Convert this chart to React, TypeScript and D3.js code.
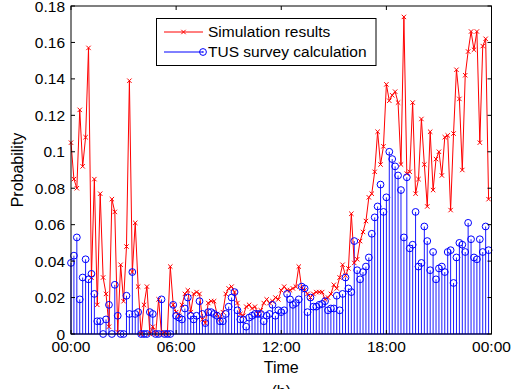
import React from "react";
import * as d3 from "d3";

const simValues: number[] = [
  0.105, 0.085, 0.080, 0.123, 0.092, 0.108, 0.157, 0.031, 0.085, 0.016,
  0.077, 0.031, 0.022, 0.004, 0.074, 0.067, 0.001, 0.038, 0.018, 0.048,
  0.139, 0.034, 0.061, 0.026, 0.000, 0.016, 0.026, 0.000, 0.004, 0.000,
  0.019, 0.000, 0.001, 0.000, 0.037, 0.016, 0.012, 0.010, 0.016, 0.022,
  0.024, 0.012, 0.022, 0.023, 0.022, 0.008, 0.006, 0.017, 0.018, 0.018,
  0.011, 0.008, 0.012, 0.022, 0.025, 0.026, 0.023, 0.017, 0.011, 0.010,
  0.015, 0.016, 0.014, 0.015, 0.011, 0.013, 0.017, 0.019, 0.017, 0.018,
  0.020, 0.019, 0.024, 0.026, 0.024, 0.024, 0.025, 0.026, 0.037, 0.025,
  0.024, 0.022, 0.020, 0.022, 0.023, 0.023, 0.023, 0.019, 0.020, 0.022,
  0.027, 0.025, 0.031, 0.038, 0.032, 0.036, 0.066, 0.039, 0.041, 0.051,
  0.056, 0.062, 0.075, 0.077, 0.089, 0.111, 0.093, 0.103, 0.137, 0.128,
  0.131, 0.133, 0.127, 0.093, 0.174, 0.088, 0.089, 0.127, 0.077, 0.085,
  0.118, 0.093, 0.070, 0.111, 0.079, 0.096, 0.100, 0.087, 0.108, 0.109,
  0.068, 0.110, 0.145, 0.129, 0.090, 0.142, 0.155, 0.166, 0.156, 0.166,
  0.105, 0.158, 0.162, 0.074,
];

const tusValues: number[] = [
  0.039, 0.043, 0.053, 0.019, 0.031, 0.041, 0.030, 0.033, 0.022, 0.007,
  0.007, 0.000, 0.008, 0.016, 0.000, 0.027, 0.010, 0.000, 0.000, 0.021,
  0.011, 0.034, 0.011, 0.012, 0.000, 0.000, 0.000, 0.012, 0.011, 0.000,
  0.000, 0.019, 0.000, 0.000, 0.000, 0.016, 0.010, 0.009, 0.008, 0.014,
  0.020, 0.010, 0.008, 0.010, 0.018, 0.011, 0.006, 0.012, 0.012, 0.011,
  0.010, 0.007, 0.007, 0.011, 0.015, 0.020, 0.023, 0.013, 0.008, 0.008,
  0.004, 0.009, 0.010, 0.011, 0.011, 0.011, 0.007, 0.010, 0.011, 0.016,
  0.010, 0.013, 0.012, 0.013, 0.022, 0.019, 0.016, 0.017, 0.019, 0.026,
  0.025, 0.012, 0.020, 0.015, 0.015, 0.016, 0.0165, 0.018, 0.013, 0.014,
  0.014, 0.021, 0.013, 0.022, 0.031, 0.025, 0.023, 0.051, 0.035, 0.030,
  0.034, 0.037, 0.042, 0.055, 0.064, 0.070, 0.082, 0.067, 0.075, 0.100,
  0.096, 0.092, 0.087, 0.079, 0.053, 0.086, 0.047, 0.049, 0.067, 0.037,
  0.039, 0.059, 0.051, 0.035, 0.045, 0.030, 0.036, 0.037, 0.034, 0.045,
  0.046, 0.028, 0.042, 0.050, 0.049, 0.045, 0.061, 0.052, 0.042, 0.041,
  0.052, 0.045, 0.059, 0.046,
];

const yTicks: number[] = [0, 0.02, 0.04, 0.06, 0.08, 0.1, 0.12, 0.14, 0.16, 0.18];
const yTickLabels: string[] = ["0", "0.02", "0.04", "0.06", "0.08", "0.1", "0.12", "0.14", "0.16", "0.18"];
const xTicks: number[] = [0, 36, 72, 108, 144];
const xTickLabels: string[] = ["00:00", "06:00", "12:00", "18:00", "00:00"];
const legendLabels: string[] = ["Simulation results", "TUS survey calculation"];

const FONT = "'Liberation Sans', Arial, sans-serif";

export default function App() {
  const W = 519, H = 389;
  const L = 71, R = 491.5, T = 6, B = 334;
  const x = d3.scaleLinear().domain([0, 144]).range([L, R]);
  const y = d3.scaleLinear().domain([0, 0.18]).range([B, T]);
  const line = d3.line<number>().x((_, i) => x(i)).y((d) => y(d));
  const red = "#ff0000";
  const blue = "#0000ff";
  const xm = 2.2;

  return (
    <svg width={W} height={H} style={{ position: "absolute", left: 0, top: 0, background: "#fff" }}>
      <rect x={0} y={0} width={W} height={H} fill="#fff" />
      <g>
        {tusValues.map((v, i) => (
          <line key={"s" + i} x1={x(i)} x2={x(i)} y1={y(0)} y2={y(v)} stroke={blue} strokeWidth={0.9} />
        ))}
        <line x1={x(0)} x2={x(143)} y1={y(0)} y2={y(0)} stroke={blue} strokeWidth={1} />
      </g>
      <path d={line(simValues) || ""} fill="none" stroke={red} strokeWidth={1} />
      <g stroke={red} strokeWidth={1}>
        {simValues.map((v, i) => (
          <g key={"x" + i}>
            <line x1={x(i) - xm} x2={x(i) + xm} y1={y(v) - xm} y2={y(v) + xm} />
            <line x1={x(i) - xm} x2={x(i) + xm} y1={y(v) + xm} y2={y(v) - xm} />
          </g>
        ))}
      </g>
      <g fill="none" stroke={blue} strokeWidth={1}>
        {tusValues.map((v, i) => (
          <circle key={"c" + i} cx={x(i)} cy={y(v)} r={3.4} />
        ))}
      </g>
      <rect x={L} y={T} width={R - L} height={B - T} fill="none" stroke="#000" strokeWidth={1} />
      <g>
        {yTicks.map((t, i) => (
          <g key={"yt" + i}>
            <line x1={L} x2={L + 4} y1={y(t)} y2={y(t)} stroke="#000" />
            <line x1={R} x2={R - 4} y1={y(t)} y2={y(t)} stroke="#000" />
            <text x={L - 6} y={y(t)} dy="0.36em" textAnchor="end" fontFamily={FONT} fontSize={15.5} fill="#000">
              {yTickLabels[i]}
            </text>
          </g>
        ))}
      </g>
      <g>
        {xTicks.map((t, i) => (
          <g key={"xt" + i}>
            <line x1={x(t)} x2={x(t)} y1={B} y2={B - 4} stroke="#000" />
            <line x1={x(t)} x2={x(t)} y1={T} y2={T + 4} stroke="#000" />
            <text x={x(t)} y={B + 18} textAnchor="middle" fontFamily={FONT} fontSize={15.5} fill="#000">
              {xTickLabels[i]}
            </text>
          </g>
        ))}
      </g>
      <text x={(L + R) / 2} y={B + 39} textAnchor="middle" fontFamily={FONT} fontSize={16} fill="#000">Time</text>
      <text transform={`translate(23, ${(T + B) / 2}) rotate(-90)`} textAnchor="middle" fontFamily={FONT} fontSize={16} fill="#000">Probability</text>
      <text x={(L + R) / 2} y={397} textAnchor="middle" fontFamily={FONT} fontSize={16} fill="#000">(b)</text>
      <g>
        <rect x={156.5} y={18.5} width={219.5} height={47} fill="#fff" stroke="#000" strokeWidth={1} />
        <line x1={164} x2={203} y1={32} y2={32} stroke={red} strokeWidth={1} />
        <line x1={183.5 - xm} x2={183.5 + xm} y1={32 - xm} y2={32 + xm} stroke={red} />
        <line x1={183.5 - xm} x2={183.5 + xm} y1={32 + xm} y2={32 - xm} stroke={red} />
        <line x1={164} x2={203} y1={52} y2={52} stroke={blue} strokeWidth={1} />
        <circle cx={203} cy={52} r={3.4} fill="none" stroke={blue} />
        <circle cx={203} cy={52} r={0.8} fill={blue} />
        <text x={208} y={32} dy="0.35em" fontFamily={FONT} fontSize={15.5} fill="#000">{legendLabels[0]}</text>
        <text x={208} y={52} dy="0.35em" fontFamily={FONT} fontSize={15.5} fill="#000">{legendLabels[1]}</text>
      </g>
    </svg>
  );
}
